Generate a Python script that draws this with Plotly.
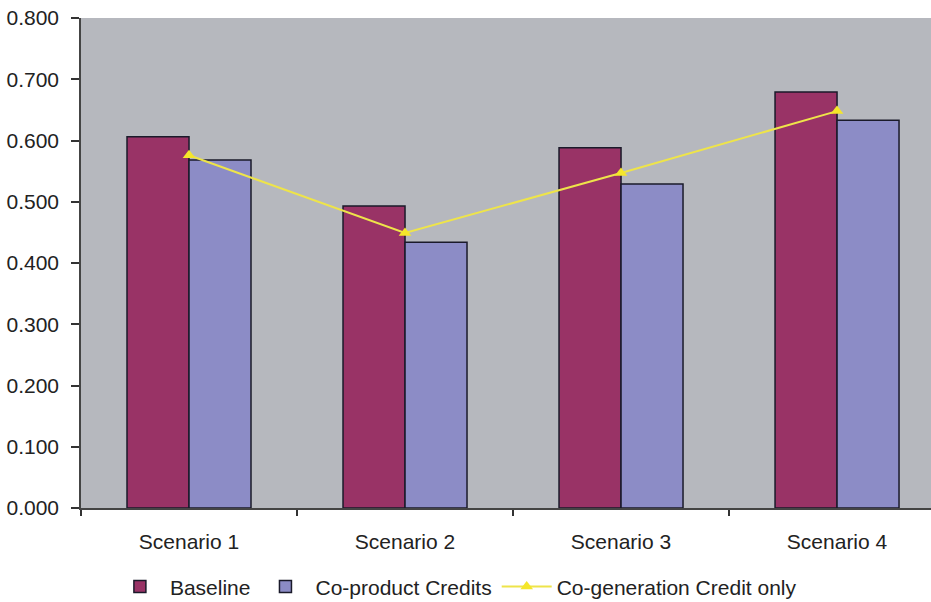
import plotly.graph_objects as go

categories = ["Scenario 1", "Scenario 2", "Scenario 3", "Scenario 4"]
baseline = [0.606, 0.493, 0.588, 0.679]
coproduct = [0.568, 0.434, 0.529, 0.633]
cogeneration = [0.576, 0.449, 0.547, 0.648]
ytick_vals = [0.0, 0.1, 0.2, 0.3, 0.4, 0.5, 0.6, 0.7, 0.8]

font = "Liberation Sans, Arial, sans-serif"
fs = 21

fig = go.Figure()
fig.add_trace(go.Bar(
    x=categories, y=baseline, name="Baseline",
    marker=dict(color="#993366", line=dict(color="#1a1a2a", width=1.5)),
))
fig.add_trace(go.Bar(
    x=categories, y=coproduct, name="Co-product Credits",
    marker=dict(color="#8c8cc6", line=dict(color="#1a1a2a", width=1.5)),
))
fig.add_trace(go.Scatter(
    x=categories, y=cogeneration, name="Co-generation Credit only",
    mode="lines+markers",
    line=dict(color="#eee44a", width=2),
    marker=dict(symbol="triangle-up", size=11, color="#f5e62a"),
))

fig.update_layout(
    width=931, height=602,
    margin=dict(l=81, r=0, t=18, b=94, autoexpand=False),
    paper_bgcolor="white",
    plot_bgcolor="#b6b8be",
    barmode="group",
    bargap=0.426,
    bargroupgap=0,
    font=dict(family=font, size=fs, color="#222222"),
    showlegend=True,
    legend=dict(
        orientation="h", x=0.034, xanchor="left", y=-0.161, yanchor="middle",
        font=dict(family=font, size=fs, color="#222222"),
        itemwidth=50, tracegroupgap=0,
    ),
)
fig.update_xaxes(
    range=[-0.5, 3.435], automargin=False,
    showgrid=False, showline=True, linecolor="#444444", linewidth=1.5,
    ticks="outside", tickson="boundaries", ticklen=6, tickcolor="#333333", tickwidth=1.5,
    ticklabelstandoff=14,
    tickfont=dict(family=font, size=fs, color="#222222"),
)
fig.update_yaxes(
    range=[0, 0.8], tickvals=ytick_vals, tickformat=".3f", automargin=False,
    showgrid=False, showline=True, linecolor="#444444", linewidth=1.5,
    ticks="outside", ticklen=8, tickcolor="#333333", tickwidth=1.5,
    ticklabelstandoff=8,
    tickfont=dict(family=font, size=fs, color="#222222"),
    zeroline=False,
)

fig.write_html("out.html")
